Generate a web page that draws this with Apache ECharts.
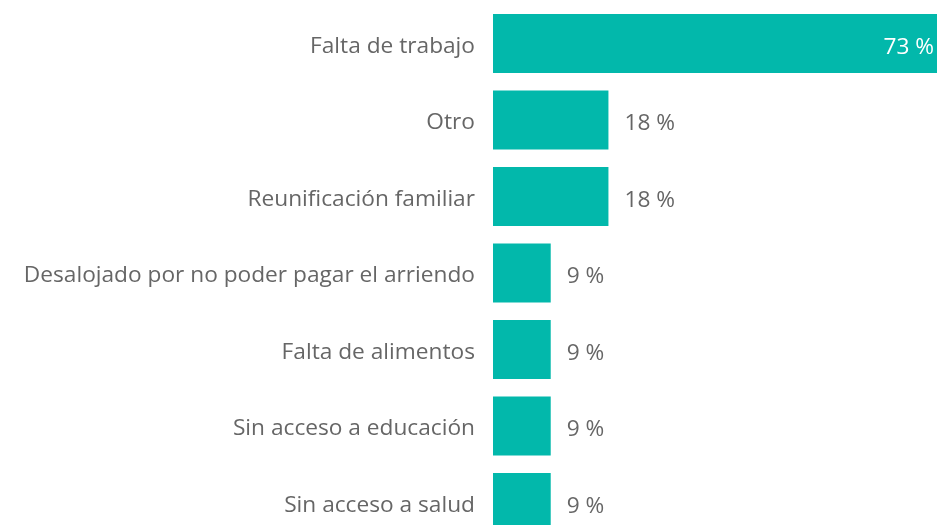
<!DOCTYPE html>
<html>
<head>
<meta charset="utf-8">
<script src="https://cdn.jsdelivr.net/npm/echarts@6/dist/echarts.min.js"></script>
<style>html,body{margin:0;padding:0;background:#fff}#c{width:937px;height:525px}</style>
</head>
<body>
<div id="c"></div>
<script>
var categories = ["Falta de trabajo","Otro","Reunificación familiar","Desalojado por no poder pagar el arriendo","Falta de alimentos","Sin acceso a educación","Sin acceso a salud"];
var values = [72.7, 18.2, 18.2, 9.1, 9.1, 9.1, 9.1];

var chart = echarts.init(document.getElementById('c'), null, {renderer:'canvas'});
var font = '"Segoe UI","Open Sans","Noto Sans",sans-serif';
chart.setOption({
  animation:false,
  grid:{left:493, right:0, top:5.25, height:535.5, containLabel:false, outerBoundsMode:'none'},
  xAxis:{type:'value', min:0, max:70, show:false},
  yAxis:{type:'category', data:categories, inverse:true,
    axisLine:{show:false}, axisTick:{show:false}, splitLine:{show:false},
    axisLabel:{color:'#666666', margin:18,
      formatter:function(v){return '{a|' + v + '}';},
      rich:{a:{fontSize:22.7, color:'#666666', fontFamily:font, padding:[6,0,0,0]}}}},
  series:[{type:'bar', data:values.map(function(v,i){
      return {value:v, label: i===0 ? {position:'insideRight', color:'#ffffff', offset:[13,4]} : {}};
    }),
    barWidth:59, itemStyle:{color:'#02B8AB'}, clip:true,
    label:{show:true, position:'right', distance:16, offset:[0,4], fontSize:22.7, color:'#666666', fontFamily:font,
      formatter:function(p){return Math.round(p.value)+' %';}}
  }]
});
</script>
</body>
</html>
